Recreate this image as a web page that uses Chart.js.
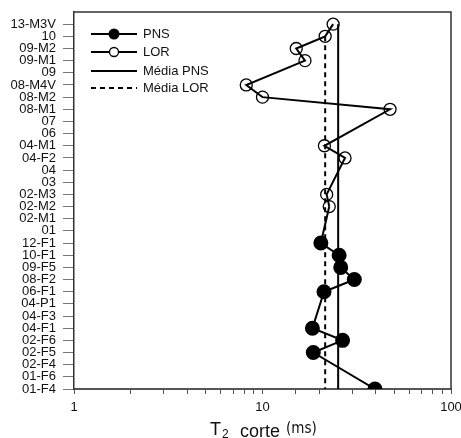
<!DOCTYPE html>
<html>
<head>
<meta charset="utf-8">
<script src="https://cdn.jsdelivr.net/npm/chart.js@4.4.1/dist/chart.umd.min.js"></script>
<style>
  html, body { margin: 0; padding: 0; background: #fff; }
  #wrap { width: 461px; height: 438px; }
</style>
</head>
<body>
<div id="wrap"><canvas id="t2Chart" width="461" height="438"></canvas></div>
<script>
// categories, bottom -> top
var categories = ["01-F4", "01-F6", "02-F4", "02-F5", "02-F6", "04-F1", "04-F3", "04-P1",
  "06-F1", "08-F2", "09-F5", "10-F1", "12-F1", "01", "02-M1", "02-M2", "02-M3", "03", "04",
  "04-F2", "04-M1", "06", "07", "08-M1", "08-M2", "08-M4V", "09", "09-M1", "09-M2", "10", "13-M3V"];

// LOR samples (top -> bottom)
var lorSamples = ["13-M3V", "10", "09-M2", "09-M1", "08-M4V", "08-M2", "08-M1", "04-M1", "04-F2", "02-M3", "02-M2"];
var lorT2 = [23.7, 21.5, 15.1, 16.8, 8.2, 10.0, 47.5, 21.3, 27.4, 21.9, 22.6];

// PNS samples (top -> bottom)
var pnsSamples = ["12-F1", "10-F1", "09-F5", "08-F2", "06-F1", "04-F1", "02-F6", "02-F5", "01-F4"];
var pnsT2 = [20.4, 25.5, 26.0, 30.7, 21.2, 18.4, 26.6, 18.6, 39.5];

var meanPns = 25.2;
var meanLor = 21.5;

var xTickLabels = [1, 10, 100];

function toPoints(samples, values) {
  return samples.map(function(s, i) {
    return { x: values[i], y: categories.indexOf(s) };
  });
}

var lorPoints = toPoints(lorSamples, lorT2);
var pnsPoints = toPoints(pnsSamples, pnsT2);
var topIdx = categories.length - 1;

// ── custom legend + frame + axis title ─────────────────────────
var decorPlugin = {
  id: "decor",
  afterDraw: function(chart) {
    var ctx = chart.ctx;
    var a = chart.chartArea;
    ctx.save();

    // frame (top / right)
    ctx.strokeStyle = "#333";
    ctx.lineWidth = 1.5;
    ctx.beginPath();
    ctx.moveTo(a.left, a.top);
    ctx.lineTo(a.right, a.top);
    ctx.lineTo(a.right, a.bottom);
    ctx.stroke();

    // legend
    ctx.strokeStyle = "#000";
    ctx.fillStyle = "#000";
    ctx.lineWidth = 2;
    var rows = [34, 52, 71, 88];
    var x0 = 91, x1 = 137;
    // PNS
    ctx.beginPath(); ctx.moveTo(x0, rows[0]); ctx.lineTo(x1, rows[0]); ctx.stroke();
    ctx.beginPath(); ctx.arc(114, rows[0], 5.5, 0, Math.PI * 2); ctx.fill();
    // LOR
    ctx.beginPath(); ctx.moveTo(x0, rows[1]); ctx.lineTo(x1, rows[1]); ctx.stroke();
    ctx.lineWidth = 1.3;
    ctx.fillStyle = "#fff";
    ctx.beginPath(); ctx.arc(114, rows[1], 4.5, 0, Math.PI * 2); ctx.fill(); ctx.stroke();
    ctx.fillStyle = "#000";
    ctx.lineWidth = 2;
    // Média PNS
    ctx.beginPath(); ctx.moveTo(x0, rows[2]); ctx.lineTo(x1, rows[2]); ctx.stroke();
    // Média LOR
    ctx.setLineDash([5, 4]);
    ctx.beginPath(); ctx.moveTo(x0, rows[3]); ctx.lineTo(x1, rows[3]); ctx.stroke();
    ctx.setLineDash([]);

    ctx.font = "13px 'Liberation Sans', Arial, sans-serif";
    ctx.textBaseline = "middle";
    ctx.textAlign = "left";
    ctx.fillStyle = "#111";
    ctx.fillText("PNS", 143, rows[0]);
    ctx.fillText("LOR", 143, rows[1]);
    ctx.fillText("Média PNS", 143, rows[2]);
    ctx.fillText("Média LOR", 143, rows[3]);

    // axis title: T2 corte (ms)
    ctx.textBaseline = "alphabetic";
    ctx.font = "18px 'Liberation Sans', Arial, sans-serif";
    ctx.fillText("T", 210, 435);
    ctx.font = "12px 'Liberation Sans', Arial, sans-serif";
    ctx.fillText("2", 222, 438);
    ctx.font = "18px 'Liberation Sans', Arial, sans-serif";
    ctx.fillText("corte", 240, 437);
    ctx.font = "15px 'Liberation Sans Narrow', 'DejaVu Sans Condensed', Arial, sans-serif";
    ctx.fillText("(ms)", 286, 433);

    ctx.restore();
  }
};

new Chart(document.getElementById("t2Chart"), {
  type: "line",
  data: {
    datasets: [
      {
        label: "LOR",
        data: lorPoints,
        borderColor: "#000",
        borderWidth: 2,
        pointRadius: 6,
        pointBorderWidth: 1.3,
        pointBackgroundColor: "rgba(0,0,0,0)",
        pointBorderColor: "#000",
        fill: false,
        tension: 0
      },
      {
        label: "link",
        data: [lorPoints[lorPoints.length - 1], pnsPoints[0]],
        borderColor: "#000",
        borderWidth: 2,
        pointRadius: 0,
        fill: false
      },
      {
        label: "PNS",
        data: pnsPoints,
        borderColor: "#000",
        borderWidth: 2,
        pointRadius: 6.5,
        pointBackgroundColor: "#000",
        pointBorderColor: "#000",
        fill: false,
        tension: 0
      },
      {
        label: "Média PNS",
        data: [{ x: meanPns, y: topIdx }, { x: meanPns, y: 0 }],
        borderColor: "#000",
        borderWidth: 2,
        pointRadius: 0,
        fill: false
      },
      {
        label: "Média LOR",
        data: [{ x: meanLor, y: topIdx - 1 }, { x: meanLor, y: 0 }],
        borderColor: "#000",
        borderWidth: 2,
        borderDash: [5, 4],
        pointRadius: 0,
        fill: false
      }
    ]
  },
  options: {
    responsive: false,
    animation: false,
    layout: { padding: { top: 12, right: 10, left: 0, bottom: 0 } },
    plugins: {
      legend: { display: false },
      tooltip: { enabled: false }
    },
    scales: {
      x: {
        type: "logarithmic",
        min: 1,
        max: 100,
        afterFit: function(scale) {
          scale.height = 49;
          scale.paddingLeft = 0;
          scale.paddingRight = 0;
        },
        grid: { drawOnChartArea: false, drawTicks: true, tickLength: 5, color: "#555" },
        border: { display: true, color: "#555", width: 2 },
        ticks: {
          autoSkip: false,
          maxRotation: 0,
          padding: 6,
          color: "#111",
          font: { family: "'Liberation Sans', Arial, sans-serif", size: 13 },
          callback: function(value) {
            return xTickLabels.indexOf(value) >= 0 ? String(value) : "";
          }
        }
      },
      y: {
        type: "linear",
        min: 0,
        max: categories.length,
        afterFit: function(scale) {
          scale.width = 74;
          scale.paddingTop = 0;
          scale.paddingBottom = 0;
        },
        afterBuildTicks: function(scale) {
          scale.ticks = categories.map(function(c, i) { return { value: i }; });
        },
        grid: { drawOnChartArea: false, drawTicks: true, tickLength: 11, color: "#777" },
        border: { display: true, color: "#333", width: 1.5 },
        ticks: {
          autoSkip: false,
          padding: 7,
          color: "#111",
          font: { family: "'Liberation Sans', Arial, sans-serif", size: 13 },
          callback: function(value) { return categories[value] || ""; }
        }
      }
    }
  },
  plugins: [decorPlugin]
});
</script>
</body>
</html>
